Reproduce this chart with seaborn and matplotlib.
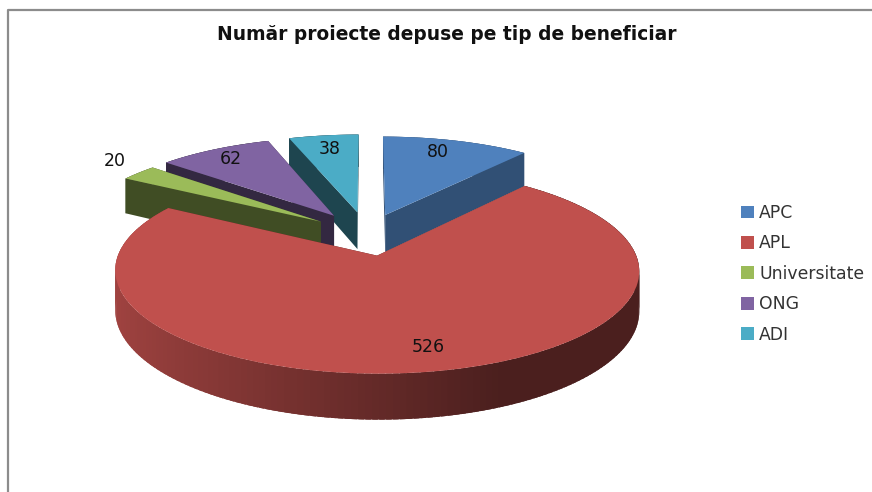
import numpy as np
import matplotlib
matplotlib.use("Agg")
import matplotlib.pyplot as plt
import matplotlib.colors as mc
from matplotlib.lines import Line2D
from matplotlib.patches import Polygon
from matplotlib.transforms import Transform
import seaborn as sns

title = "Număr proiecte depuse pe tip de beneficiar"
categories = ["APC", "APL", "Universitate", "ONG", "ADI"]
values = [80, 526, 20, 62, 38]
hex_colors = ["#4F81BD", "#C0504D", "#9BBB59", "#8064A2", "#4BACC6"]

CX, CY, RX, RY, K, DEPTH = 367.0, 234.0, 251.0, 94.5, 0.142, 38.0
explode = [0.22, 0.225, 0.23, 0.24, 0.24]
face_shade = [0.62, 0.45, 0.41, 0.40, 0.40]
label_radius = [0.85, 0.80, 1.2, 0.86, 0.84]
label_nudge = [(-9, 1), (10, 2), (9, -3), (1, 1), (1, 2)]


class Tilt(Transform):
    """Perspective view of the unit-circle pie, in pixel coordinates."""
    input_dims = output_dims = 2

    def __init__(self, drop=0.0):
        super().__init__()
        self.drop = drop

    def transform_non_affine(self, xy):
        xy = np.asarray(xy, dtype=float)
        w = 1 + K * xy[:, 1]
        return np.column_stack([CX + RX * xy[:, 0] / w,
                                CY - RY * xy[:, 1] / w + self.drop / w])


sns.set_theme(style="white")
plt.rcParams["font.family"] = ["DejaVu Sans"]
palette = sns.color_palette(hex_colors)

fig, ax = plt.subplots(figsize=(8.72, 4.92), dpi=100)
ax.set_position([0, 0, 1, 1])
wedges, _ = ax.pie(values, colors=palette, startangle=90, counterclock=False,
                   explode=explode, radius=1.0)
ax.set_aspect("auto")
ax.set_xlim(0, 872)
ax.set_ylim(492, 0)
ax.axis("off")

top = Tilt(0.0)
bottom = Tilt(DEPTH)
to_px = lambda pts, t: t.transform_non_affine(np.asarray(pts))


def shade(color, f):
    return tuple(np.array(mc.to_rgb(color)) * f)


def wall(a, color, z):
    pts = np.vstack([to_px(a, top), to_px(a, bottom)[::-1]])
    ax.add_patch(Polygon(pts, closed=True, facecolor=color, edgecolor="none",
                         lw=0, zorder=z))


order = [4, 3, 2, 0, 1]
for z, i in enumerate(order):
    w = wedges[i]
    base = 10 * (z + 1)
    c = np.array(w.center)
    t1, t2 = np.deg2rad(w.theta1), np.deg2rad(w.theta2)
    rim = lambda t: c + np.array([np.cos(t), np.sin(t)]) * w.r
    # flat cut faces
    for t in (t1, t2):
        wall(np.vstack([c, rim(t)]), shade(palette[i], face_shade[i]), base)
    # outer rim, shaded from left to right; pieces overlap to avoid seams
    ts = np.linspace(t1, t2, 200)
    step = ts[1] - ts[0]
    for a in ts[:-1]:
        p = np.array([rim(a), rim(a + step / 2), rim(a + step * 1.8)])
        if a + step * 1.8 > t2:
            p = np.array([rim(a), rim((a + t2) / 2), rim(t2)])
        frac = np.clip((p[1, 0] - c[0] + 1) / 2, 0, 1)
        f = max(0.39, 0.84 - 0.64 * frac) if i == 1 else face_shade[i]
        wall(p, shade(palette[i], f), base + 1)
    w.set_transform(top + ax.transData)
    w.set_zorder(base + 2)
    w.set_edgecolor("none")
    # value label, placed on the slice along its mid angle
    mid = (t1 + t2) / 2
    pos = to_px([c + np.array([np.cos(mid), np.sin(mid)]) * w.r * label_radius[i]], top)[0]
    ax.text(pos[0] + label_nudge[i][0], pos[1] + label_nudge[i][1], str(values[i]),
            ha="center", va="center", fontsize=12.5, color="#111111", zorder=200)

# chart frame (left and top edges only are visible)
ax.add_line(Line2D([7.5, 7.5, 872], [492, 9.5, 9.5], color="#8c8c8c", lw=1.6,
                   zorder=1))

ax.text(447, 35, title, ha="center", va="center", fontsize=13.4,
        fontweight="bold", color="#111111", family="DejaVu Sans")

leg = ax.legend(wedges, categories, loc="upper left",
                bbox_to_anchor=(741 / 872, 1 - 204 / 492), frameon=False,
                fontsize=12.4, labelspacing=0.72, handlelength=0.75,
                handleheight=0.75, handletextpad=0.3, borderpad=0, borderaxespad=0,
                labelcolor="#333333")
leg.set_zorder(300)

fig.savefig("out.png", dpi=100, facecolor="white")
